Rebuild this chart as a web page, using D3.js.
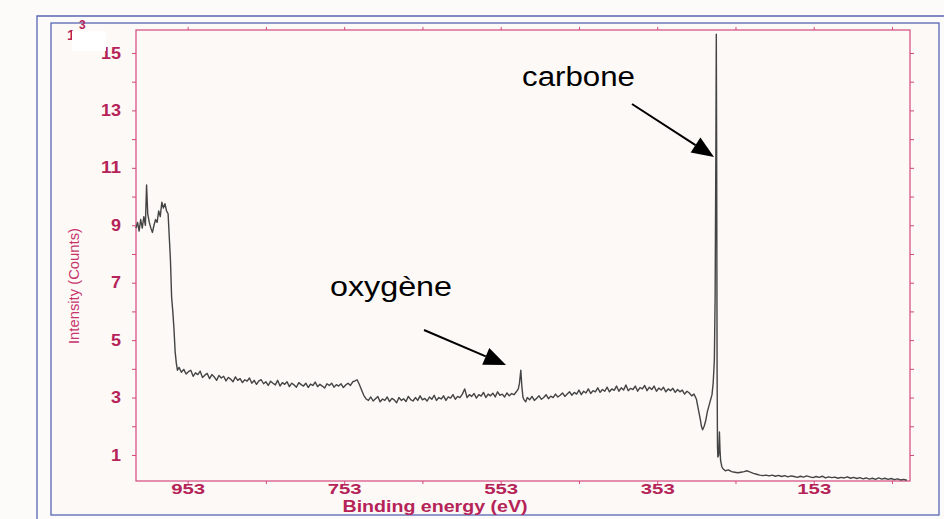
<!DOCTYPE html>
<html>
<head>
<meta charset="utf-8">
<script src="https://cdn.jsdelivr.net/npm/d3@7"></script>
<style>
  html, body { margin: 0; padding: 0; background: #fdfbf9; }
  svg { display: block; }
  text { font-family: "Liberation Sans", Arial, sans-serif; }
</style>
</head>
<body>
<svg id="chart" width="944" height="519"></svg>
<script>
// ---- DATA (binding energy in eV, intensity in counts x10^3) ----
const plateauHigh = [
  [1019, 8.9], [1017, 9.1], [1015, 8.8], [1013, 9.2], [1011, 8.9], [1009, 9.3],
  [1007, 9.0], [1005.5, 10.4], [1004, 9.4], [1002, 9.1], [1000, 8.9], [998, 8.75],
  [996, 9.0], [994, 9.2], [992, 9.1], [990, 9.5], [988, 9.3], [986, 9.8],
  [984, 9.6], [982, 9.75], [980, 9.5], [978, 9.4], [976.5, 8.6], [975, 7.8],
  [973.5, 6.5], [972, 6.0], [970.5, 5.4], [969, 4.6], [967.5, 4.2], [966, 3.95]
];
const backgroundHigh = [
  [964, 4.05], [961, 3.88], [958, 3.98], [955, 3.82], [952, 3.9], [949, 3.95],
  [946, 3.74], [943, 3.86], [940, 3.8], [937, 3.92], [934, 3.7], [931, 3.78],
  [928, 3.84], [925, 3.66], [922, 3.8], [919, 3.72], [916, 3.6], [913, 3.77],
  [910, 3.68], [907, 3.74], [904, 3.58], [901, 3.7], [898, 3.64], [895, 3.55],
  [892, 3.72], [889, 3.6], [886, 3.66], [883, 3.52], [880, 3.62], [877, 3.57],
  [874, 3.68], [871, 3.5], [868, 3.6], [865, 3.46], [862, 3.58], [859, 3.62],
  [856, 3.48], [853, 3.55], [850, 3.42], [847, 3.57], [844, 3.5], [841, 3.44],
  [838, 3.6], [835, 3.4], [832, 3.52], [829, 3.46], [826, 3.55], [823, 3.38],
  [820, 3.5], [817, 3.44], [814, 3.36], [811, 3.52], [808, 3.45], [805, 3.4],
  [802, 3.5], [799, 3.35], [796, 3.47], [793, 3.42], [790, 3.54], [787, 3.38],
  [784, 3.46], [781, 3.4], [778, 3.33], [775, 3.48], [772, 3.42], [769, 3.5],
  [766, 3.36], [763, 3.45], [760, 3.4], [757, 3.48], [754, 3.35], [751, 3.44],
  [748, 3.5], [745, 3.42], [742, 3.55], [739, 3.58], [736.5, 3.62], [734, 3.48],
  [731, 3.28], [728, 3.08], [725, 2.95]
];
const backgroundMid = [
  [722, 2.9], [719, 3.02], [716, 2.88], [713, 2.96], [710, 3.04], [707, 2.85],
  [704, 2.95], [701, 2.9], [698, 3.02], [695, 2.86], [692, 2.97], [689, 2.92],
  [686, 2.82], [683, 3.0], [680, 2.9], [677, 2.96], [674, 2.86], [671, 3.04],
  [668, 2.93], [665, 2.88], [662, 3.0], [659, 2.9], [656, 3.06], [653, 2.92],
  [650, 2.97], [647, 2.88], [644, 3.02], [641, 2.94], [638, 3.08], [635, 2.9],
  [632, 3.0], [629, 2.95], [626, 3.06], [623, 2.9], [620, 3.02], [617, 2.98],
  [614, 3.1], [611, 2.94], [608, 3.04], [605, 3.0], [602, 3.12], [599, 3.3],
  [596, 3.0], [593, 3.1], [590, 3.04], [587, 3.14], [584, 2.98], [581, 3.1],
  [578, 3.05], [575, 3.18], [572, 3.0], [569, 3.12], [566, 3.06], [563, 3.15],
  [560, 3.02], [557, 3.2], [554, 3.08], [551, 3.12], [548, 3.02], [545, 3.16],
  [542, 3.06], [539, 3.14], [536, 3.1], [533, 3.2]
];
const oxygenPeak = [
  [530.5, 3.3], [529, 3.5], [527.3, 3.95], [526, 3.4], [524.5, 3.0], [523, 2.92], [521, 2.85]
];
const backgroundLow = [
  [519, 3.0], [516, 2.92], [513, 3.04], [510, 2.9], [507, 2.98], [504, 3.06],
  [501, 2.94], [498, 3.0], [495, 3.1], [492, 2.96], [489, 3.05], [486, 3.0],
  [483, 3.12], [480, 3.02], [477, 3.08], [474, 3.16], [471, 3.04], [468, 3.12],
  [465, 3.2], [462, 3.08], [459, 3.18], [456, 3.12], [453, 3.26], [450, 3.1],
  [447, 3.22], [444, 3.16], [441, 3.3], [438, 3.14], [435, 3.24], [432, 3.2],
  [429, 3.34], [426, 3.18], [423, 3.28], [420, 3.22], [417, 3.36], [414, 3.2],
  [411, 3.3], [408, 3.25], [405, 3.4], [402, 3.22], [399, 3.34], [396, 3.26],
  [393, 3.44], [390, 3.24], [387, 3.32], [384, 3.28], [381, 3.4], [378, 3.22],
  [375, 3.35], [372, 3.3], [369, 3.42], [366, 3.24], [363, 3.36], [360, 3.28],
  [357, 3.4], [354, 3.22], [351, 3.33], [348, 3.26], [345, 3.36], [342, 3.2],
  [339, 3.3], [336, 3.24], [333, 3.32], [330, 3.18], [327, 3.28], [324, 3.2],
  [321, 3.26], [318, 3.12], [315, 3.22], [312, 3.16], [309, 3.06], [306, 3.12],
  [303, 2.95], [300.5, 2.6], [298, 2.25], [296.5, 2.0]
];
const carbonPeak = [
  [295, 1.88], [293, 2.0], [291, 2.2], [289, 2.5], [287, 2.7], [285, 2.9],
  [283, 3.1], [281.5, 3.5], [280, 4.3], [279, 6.5], [278, 12.0], [277.5, 15.65],
  [277, 11.0], [276.5, 4.0], [276, 1.3], [275.5, 0.93], [274.5, 1.0], [273.5, 1.8],
  [272.8, 1.2], [272, 0.8], [270.5, 0.6], [269, 0.52]
];
const tailLow = [
  [266, 0.45], [262, 0.48], [258, 0.42], [254, 0.4], [250, 0.38],
  [246, 0.4], [242, 0.42], [238, 0.45], [234, 0.4], [230, 0.36], [226, 0.33],
  [222, 0.3], [218, 0.28], [214, 0.3], [210, 0.27], [206, 0.3], [202, 0.26],
  [198, 0.29], [194, 0.25], [190, 0.28], [186, 0.24], [182, 0.27], [178, 0.25],
  [174, 0.22], [170, 0.26], [166, 0.23], [162, 0.27], [158, 0.24], [154, 0.21],
  [150, 0.25], [146, 0.22], [142, 0.26], [138, 0.2], [134, 0.24], [130, 0.21],
  [126, 0.23], [122, 0.19], [118, 0.22], [114, 0.2], [110, 0.24], [106, 0.19],
  [102, 0.22], [98, 0.18], [94, 0.21], [90, 0.17], [86, 0.2], [82, 0.16],
  [78, 0.19], [74, 0.15], [70, 0.2], [66, 0.16], [62, 0.19], [58, 0.15],
  [54, 0.18], [50, 0.14], [46, 0.17], [42, 0.13], [38, 0.15], [34, 0.12]
];

const xTickLabels = [953, 753, 553, 353, 153];
const xMinorTicks = [953, 853, 753, 653, 553, 453, 353, 253, 153, 53];
const yTickLabels = [1, 3, 5, 7, 9, 11, 13, 15];
const yMinorTicks = [2, 4, 6, 8, 10, 12, 14];

const annotations = [
  { text: "carbone", tx: 522, ty: 86, len: 113, x1: 632, y1: 104, x2: 714, y2: 157 },
  { text: "oxygène", tx: 330, ty: 296, len: 122, x1: 424, y1: 330, x2: 506, y2: 365 }
];

// ---- DRAW ----
const svg = d3.select("#chart");
const W = 944, H = 519;
const pink = "#d2487e", pinkText = "#b52358", blue = "#5866b4";

const x = d3.scaleLinear().domain([1019, 30]).range([136, 910]);
const y = d3.scaleLinear().domain([0.094, 15.8]).range([481, 30]);

// frames
svg.append("rect").attr("x", 0).attr("y", 0).attr("width", W).attr("height", H).attr("fill", "#fdfbf9");
svg.append("path").attr("d", "M37,519 L37,16 L944,16").attr("fill", "none").attr("stroke", blue).attr("stroke-width", 1.3);
svg.append("rect").attr("x", 51).attr("y", 23).attr("width", 888).attr("height", 492)
  .attr("fill", "#fcf9f6").attr("stroke", blue).attr("stroke-width", 1.3);

// plot box
svg.append("rect").attr("x", 136).attr("y", 30).attr("width", 774).attr("height", 451)
  .attr("fill", "none").attr("stroke", pink).attr("stroke-width", 1.2);

function styleAxis(g) {
  g.select(".domain").remove();
  g.selectAll(".tick line").attr("stroke", pink).attr("stroke-width", 1);
}

// y axes
svg.append("g").attr("transform", "translate(136,0)")
  .call(d3.axisLeft(y).tickValues(yMinorTicks).tickSize(4).tickFormat(""))
  .call(styleAxis);
const yAx = svg.append("g").attr("transform", "translate(136,0)")
  .call(d3.axisLeft(y).tickValues(yTickLabels).tickSize(4).tickPadding(11))
  .call(styleAxis);
yAx.selectAll("text").attr("fill", pinkText).attr("font-size", "16px").attr("font-weight", "bold")
  .attr("font-family", "Liberation Sans, Arial, sans-serif")
  .attr("textLength", d => d >= 10 ? 20 : 10).attr("lengthAdjust", "spacingAndGlyphs");
svg.append("g").attr("transform", "translate(910,0)")
  .call(d3.axisRight(y).tickValues(yTickLabels.concat(yMinorTicks)).tickSize(4).tickFormat(""))
  .call(styleAxis);

// x axes
svg.append("g").attr("transform", "translate(0,481)")
  .call(d3.axisBottom(x).tickValues(xMinorTicks).tickSize(3).tickFormat(""))
  .call(styleAxis);
const xAx = svg.append("g").attr("transform", "translate(0,481)")
  .call(d3.axisBottom(x).tickValues(xTickLabels).tickSize(0).tickPadding(2))
  .call(styleAxis);
xAx.selectAll("text").attr("fill", pinkText).attr("font-size", "15px").attr("font-weight", "bold")
  .attr("font-family", "Liberation Sans, Arial, sans-serif")
  .attr("textLength", 34).attr("lengthAdjust", "spacingAndGlyphs");
svg.append("g").attr("transform", "translate(0,30)")
  .call(d3.axisTop(x).tickValues(xMinorTicks).tickSize(3).tickFormat(""))
  .call(styleAxis);

// axis titles
svg.append("text").attr("x", 435).attr("y", 512).attr("text-anchor", "middle")
  .attr("font-size", "16px").attr("font-weight", "bold").attr("fill", pinkText)
  .attr("textLength", 185).attr("lengthAdjust", "spacingAndGlyphs")
  .text("Binding energy (eV)");
svg.append("text").attr("transform", "translate(79,286) rotate(-90)").attr("text-anchor", "middle")
  .attr("font-size", "15px").attr("fill", "#c8336c")
  .attr("textLength", 116).attr("lengthAdjust", "spacingAndGlyphs")
  .text("Intensity (Counts)");

// exponent marker (partly covered)
svg.append("text").attr("x", 67).attr("y", 40).attr("font-size", "15px").attr("font-weight", "bold").attr("fill", pinkText).text("1");
svg.append("text").attr("x", 79).attr("y", 29).attr("font-size", "12px").attr("font-weight", "bold").attr("fill", pinkText).text("3");
svg.append("rect").attr("x", 72).attr("y", 31).attr("width", 34).attr("height", 20).attr("fill", "#ffffff");

// spectrum
const spectrum = [].concat(plateauHigh, backgroundHigh, backgroundMid, oxygenPeak, backgroundLow, carbonPeak, tailLow);
const line = d3.line().x(d => x(d[0])).y(d => y(d[1]));
svg.append("path").datum(spectrum).attr("d", line)
  .attr("fill", "none").attr("stroke", "#444").attr("stroke-width", 1.4).attr("stroke-linejoin", "round");

// annotations
annotations.forEach(a => {
  svg.append("text").attr("x", a.tx).attr("y", a.ty).attr("font-size", "27px").attr("fill", "#000")
    .attr("textLength", a.len).attr("lengthAdjust", "spacingAndGlyphs").text(a.text);
  const ang = Math.atan2(a.y2 - a.y1, a.x2 - a.x1);
  const hl = 22, hw = 9;
  const bx = a.x2 - hl * Math.cos(ang), by = a.y2 - hl * Math.sin(ang);
  svg.append("line").attr("x1", a.x1).attr("y1", a.y1).attr("x2", bx).attr("y2", by)
    .attr("stroke", "#000").attr("stroke-width", 2);
  const p1 = [bx + hw * Math.sin(ang), by - hw * Math.cos(ang)];
  const p2 = [bx - hw * Math.sin(ang), by + hw * Math.cos(ang)];
  svg.append("polygon").attr("points", [[a.x2, a.y2], p1, p2].map(p => p.join(",")).join(" ")).attr("fill", "#000");
});
</script>
</body>
</html>
